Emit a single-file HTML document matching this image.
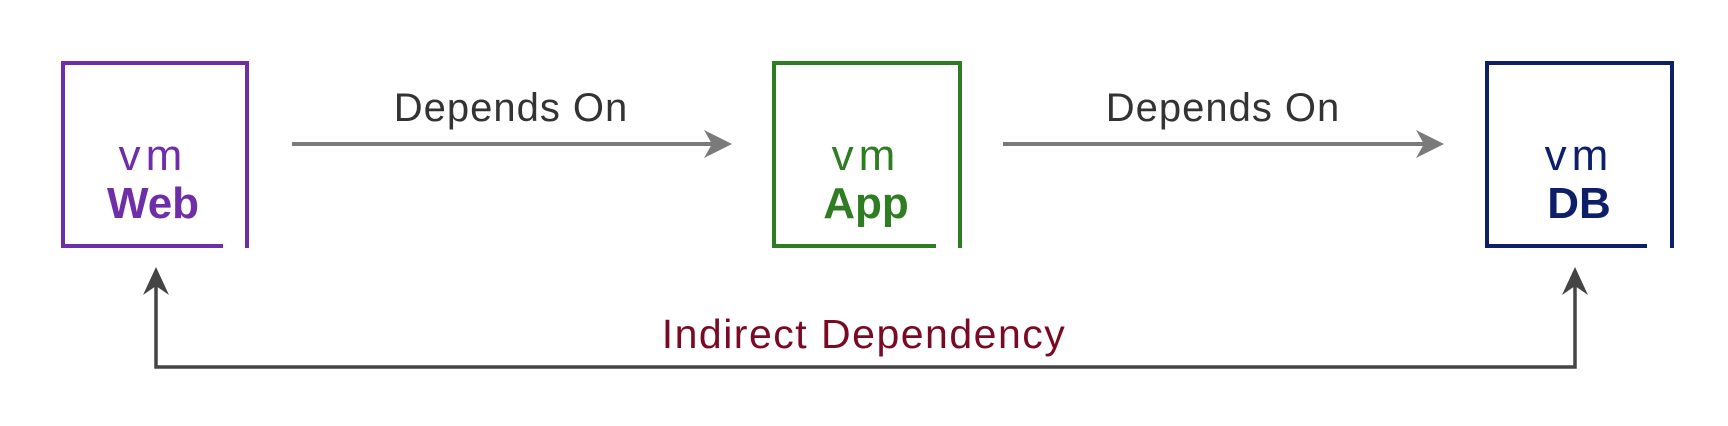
<!DOCTYPE html>
<html><head><meta charset="utf-8"><style>
html,body{margin:0;padding:0;background:#fff;}
svg{display:block;}
</style></head><body>
<svg width="1728" height="426" viewBox="0 0 1728 426" xmlns="http://www.w3.org/2000/svg">
<g font-family="Liberation Sans, sans-serif">
<g fill="none" stroke="#6f2da8" stroke-width="4">
<path d="M223 246 H63 V63 H247 V248"/>
</g>
<text x="153" y="170" text-anchor="middle" font-size="44" letter-spacing="5" fill="#6f2da8">vm</text>
<text x="153" y="218" text-anchor="middle" font-size="44" font-weight="bold" fill="#6f2da8">Web</text>
<g fill="none" stroke="#2f7d22" stroke-width="4">
<path d="M936 246 H774 V63 H960 V248"/>
</g>
<text x="866" y="170" text-anchor="middle" font-size="44" letter-spacing="5" fill="#2f7d22">vm</text>
<text x="866" y="218" text-anchor="middle" font-size="44" font-weight="bold" fill="#2f7d22">App</text>
<g fill="none" stroke="#0c1f68" stroke-width="4">
<path d="M1647 246 H1487 V63 H1672 V248"/>
</g>
<text x="1579" y="170" text-anchor="middle" font-size="44" letter-spacing="5" fill="#0c1f68">vm</text>
<text x="1579" y="218" text-anchor="middle" font-size="44" font-weight="bold" fill="#0c1f68">DB</text>
<g stroke="#7a7a7a" stroke-width="4" fill="none">
<line x1="292" y1="144" x2="725" y2="144"/>
<line x1="1003" y1="144" x2="1437" y2="144"/>
</g>
<g fill="#7a7a7a">
<path d="M732 144 L704 130 L712 144 L704 158 Z"/>
<path d="M1444 144 L1416 130 L1424 144 L1416 158 Z"/>
</g>
<text x="511" y="121" text-anchor="middle" font-size="40" letter-spacing="1" fill="#333">Depends On</text>
<text x="1223" y="121" text-anchor="middle" font-size="40" letter-spacing="1" fill="#333">Depends On</text>
<path d="M156 275 V367 H1575 V275" fill="none" stroke="#444" stroke-width="3.5"/>
<path d="M156 267 L143 295 L156 286 L169 295 Z" fill="#444"/>
<path d="M1575 267 L1562 295 L1575 286 L1588 295 Z" fill="#444"/>
<text x="864" y="348" text-anchor="middle" font-size="41" letter-spacing="1.5" fill="#7a0a24">Indirect Dependency</text>
</g>
</svg>
</body></html>
